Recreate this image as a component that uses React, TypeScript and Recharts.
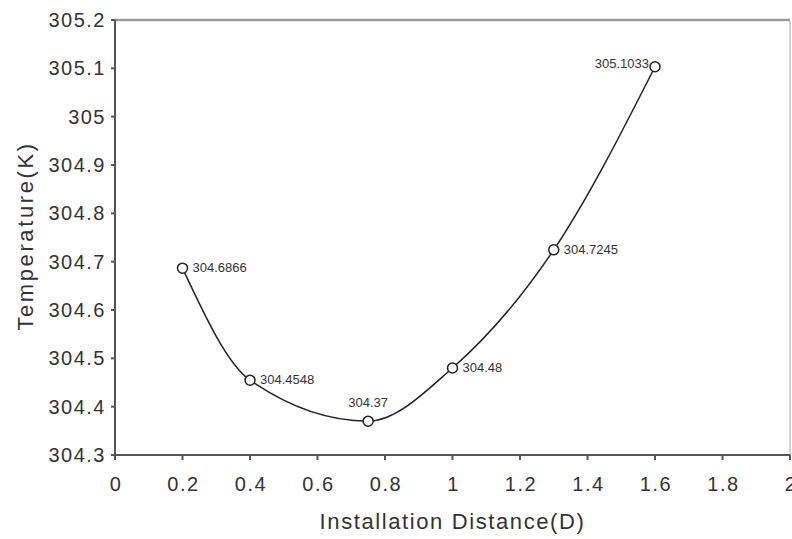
import React from 'react';
import {
  LineChart,
  Line,
  XAxis,
  YAxis,
  ReferenceLine,
  LabelList,
} from 'recharts';

const distances = [0.2, 0.4, 0.75, 1.0, 1.3, 1.6];
const temperatures = [304.6866, 304.4548, 304.37, 304.48, 304.7245, 305.1033];
const pointLabels = ['304.6866', '304.4548', '304.37', '304.48', '304.7245', '305.1033'];
const xTicks = [0, 0.2, 0.4, 0.6, 0.8, 1, 1.2, 1.4, 1.6, 1.8, 2];
const yTicks = [304.3, 304.4, 304.5, 304.6, 304.7, 304.8, 304.9, 305, 305.1, 305.2];

const data = distances.map((d, i) => ({ d, t: temperatures[i], label: pointLabels[i] }));

const axisColor = '#555';
const textColor = '#333';
const font = '"Liberation Sans", Arial, sans-serif';

// label placement per point: right of marker except 304.37 (above) and 305.1033 (left)
const PointLabel = (props: any) => {
  const { x, y, value, index } = props;
  let tx = x + 10;
  let ty = y + 4;
  let anchor: 'start' | 'middle' | 'end' = 'start';
  if (index === 2) {
    tx = x;
    ty = y - 14;
    anchor = 'middle';
  } else if (index === 5) {
    tx = x - 6;
    ty = y + 1;
    anchor = 'end';
  }
  return (
    <text x={tx} y={ty} textAnchor={anchor} fontSize={13} fill={textColor} fontFamily={font}>
      {value}
    </text>
  );
};

const XTick = (props: any) => {
  const { x, y, payload } = props;
  return (
    <text x={x + 1} y={y + 29} textAnchor="middle" fontSize={20} fill={textColor} fontFamily={font} style={{ letterSpacing: 1.5 }}>
      {payload.value}
    </text>
  );
};

const YTick = (props: any) => {
  const { x, y, payload } = props;
  return (
    <text x={x - 3} y={y + 7} textAnchor="end" fontSize={20} fill={textColor} fontFamily={font} style={{ letterSpacing: 1.5 }}>
      {payload.value}
    </text>
  );
};

const YLabel = () => (
  <text
    x={25}
    y={236}
    transform="rotate(-90 25 236)"
    textAnchor="middle"
    dominantBaseline="central"
    fontSize={22}
    fill={textColor}
    fontFamily={font}
    style={{ letterSpacing: 2.6 }}
  >
    Temperature(K)
  </text>
);

export default function App() {
  return (
    <div style={{ position: 'absolute', left: 0, top: 0, width: 792, height: 539, background: '#fff' }}>
      <LineChart width={792} height={539} data={data} margin={{ top: 20, right: 2, bottom: 0, left: 0 }}>
        <XAxis
          type="number"
          dataKey="d"
          domain={[0, 2]}
          ticks={xTicks}
          interval={0}
          allowDataOverflow
          height={84}
          stroke={axisColor}
          strokeWidth={2}
          tickSize={5}
          tick={<XTick />}
          label={{
            value: 'Installation Distance(D)',
            position: 'insideBottom',
            offset: 10,
            style: { fill: textColor, fontSize: 22, fontFamily: font, letterSpacing: 1.6 },
          }}
        />
        <YAxis
          type="number"
          domain={[304.3, 305.2]}
          ticks={yTicks}
          interval={0}
          allowDataOverflow
          width={115}
          stroke={axisColor}
          strokeWidth={2}
          tickSize={4}
          tick={<YTick />}
          label={<YLabel />}
        />
        <ReferenceLine y={305.2} stroke="#999" strokeWidth={2.5} />
        <ReferenceLine x={2} stroke="#aaa" strokeWidth={1} />
        <Line
          type="monotone"
          dataKey="t"
          stroke="#222"
          strokeWidth={1.5}
          dot={{ r: 5, stroke: '#222', strokeWidth: 1.5, fill: '#fff' }}
          activeDot={false}
          isAnimationActive={false}
        >
          <LabelList dataKey="label" content={<PointLabel />} />
        </Line>
      </LineChart>
    </div>
  );
}
